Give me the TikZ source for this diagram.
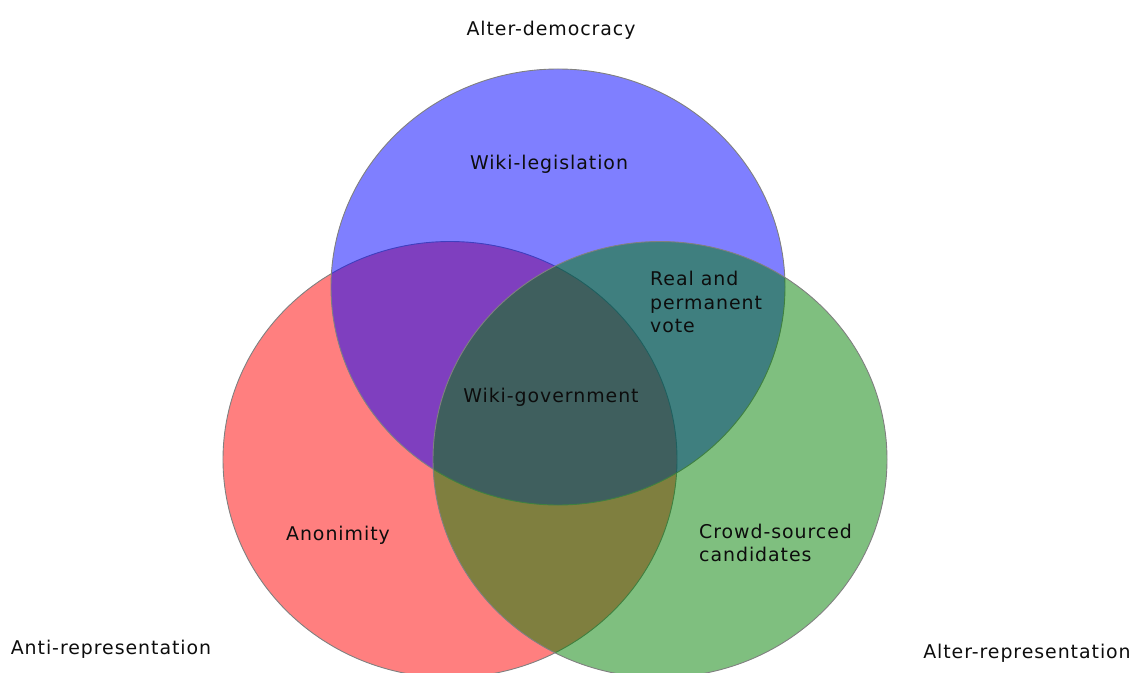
\documentclass[tikz,border=0pt]{standalone}
\usepackage{fontspec}
\setmainfont{DejaVu Sans}[LetterSpace=5]
\usetikzlibrary{shapes.geometric}

\definecolor{setred}{RGB}{255,0,0}
\definecolor{setblue}{RGB}{0,0,255}
\definecolor{setgreen}{RGB}{0,128,0}

\begin{document}
\begin{tikzpicture}[
      x=1bp, y=-1bp,
      every node/.style={font=\fontsize{19}{23.5}\selectfont, text=black!95},
      venn/.style={ellipse, draw=black!50, line width=0.9bp, fill opacity=0.5,
        minimum width=454bp, minimum height=436bp, inner sep=0pt},
      area/.style={inner sep=0pt},
      setname/.style={inner sep=0pt},
    ]
    \clip (0,0) rectangle (1135,673);
    \useasboundingbox (0,0) rectangle (1135,673);

    % The three sets (red, blue, green)
    \node[venn, fill=setred] (anti) at (450,459.5) {};
    \node[venn, fill=setblue] (demo) at (558,287) {};
    \node[venn, fill=setgreen] (alter) at (660,459.5) {};

    % Set names
    \node[setname] (ndemo) at (551,30) {Alter-democracy};
    \node[setname] (nanti) at (111,649) {Anti-representation};
    \node[setname] (nalter) at (1027,653) {Alter-representation};

    % Areas
    \node[area] (legis) at (549,164) {Wiki-legislation};
    \node[area, align=left, anchor=west] (vote) at (650,302) {Real and\\permanent\\vote};
    \node[area] (gov) at (551,397) {Wiki-government};
    \node[area] (anon) at (338,535) {Anonimity};
    \node[area, align=left, anchor=west] (crowd) at (699,543) {Crowd-sourced\\candidates};
  \end{tikzpicture}
\end{document}
